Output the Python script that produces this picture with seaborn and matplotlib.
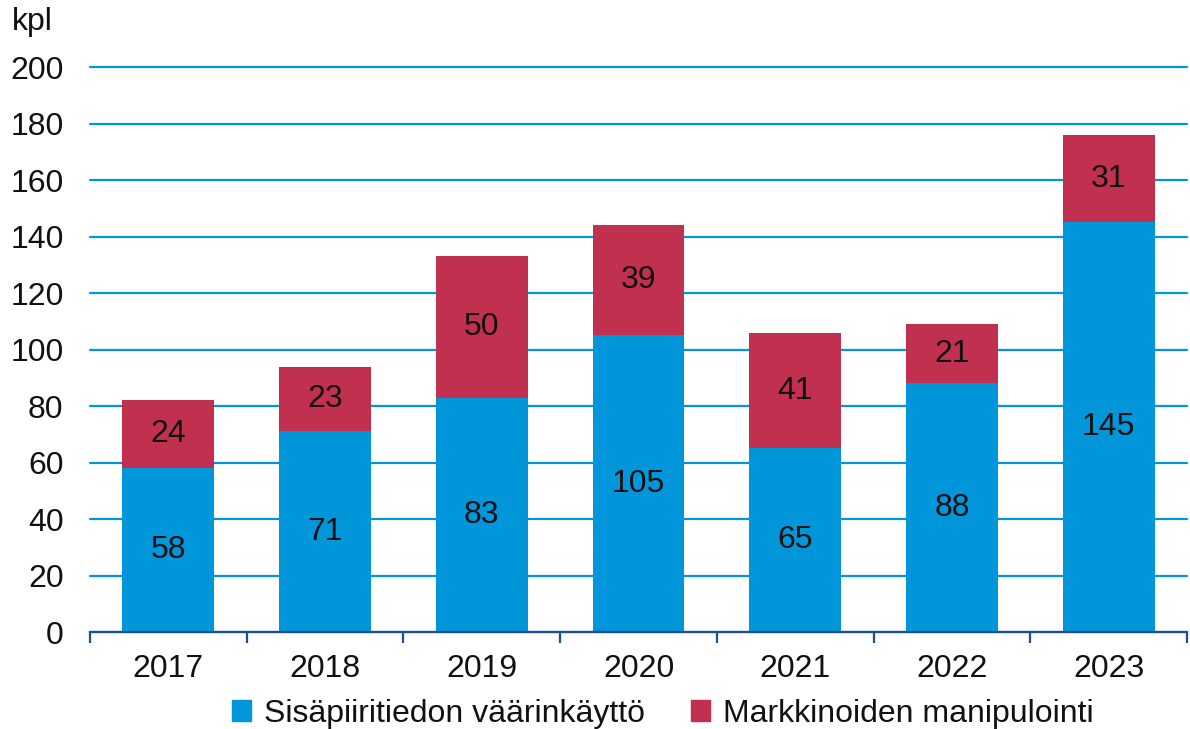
import pandas as pd
import seaborn as sns
import matplotlib.pyplot as plt
from matplotlib.ticker import MultipleLocator, FixedLocator
from matplotlib.patches import Patch

# Data
years = ["2017", "2018", "2019", "2020", "2021", "2022", "2023"]
insider = [58, 71, 83, 105, 65, 88, 145]
manipulation = [24, 23, 50, 39, 41, 21, 31]
series_names = ["Sisäpiiritiedon väärinkäyttö", "Markkinoiden manipulointi"]

blue = "#0096d9"
red = "#c1304f"
axis_blue = "#1f4e96"

df = pd.DataFrame({"year": years, "insider": insider, "manip": manipulation})

sns.set_style("white")
plt.rcParams["font.family"] = ["Liberation Sans", "DejaVu Sans"]

fig = plt.figure(figsize=(11.9, 7.29), dpi=100)
ax = fig.add_axes([0.0756, 0.133, 0.922, 0.775])

sns.barplot(data=df, x="year", y="insider", color=blue, width=0.585,
            saturation=1, ax=ax, zorder=3, linewidth=0)
sns.barplot(data=df, x="year", y="manip", color=red, width=0.585,
            saturation=1, ax=ax, bottom=df["insider"], zorder=3, linewidth=0)

for cont in ax.containers:
    ax.bar_label(cont, label_type="center", fontsize=23, color="#111111")

ax.set_ylim(0, 200)
ax.set_xlim(-0.5, len(years) - 0.5)
ax.yaxis.set_major_locator(MultipleLocator(20))
ax.grid(axis="y", color=blue, linewidth=1.6, zorder=0)
for gl in ax.get_ygridlines():
    gl.set_clip_on(False)
ax.set_axisbelow(True)
ax.set_xlabel("")
ax.set_ylabel("")

for side in ["top", "right", "left"]:
    ax.spines[side].set_visible(False)
ax.spines["bottom"].set_color(axis_blue)
ax.spines["bottom"].set_linewidth(1.6)
ax.spines["bottom"].set_zorder(4)

ax.tick_params(axis="y", length=0, pad=19, labelsize=23, labelcolor="#111111")
ax.tick_params(axis="x", which="major", length=0, pad=16, labelsize=23,
               labelcolor="#111111")
ax.xaxis.set_minor_locator(FixedLocator([i - 0.5 for i in range(len(years) + 1)]))
ax.tick_params(axis="x", which="minor", bottom=True, length=8, width=1.6,
               color=axis_blue, direction="out")

fig.text(0.01, 0.97, "kpl", fontsize=23, color="#111111", va="center")

handles = [Patch(color=blue, label=series_names[0]),
           Patch(color=red, label=series_names[1])]
fig.legend(handles=handles, loc="center", bbox_to_anchor=(0.557, 0.021),
           ncol=2, frameon=False, fontsize=23, handlelength=0.6,
           handleheight=0.6, handletextpad=0.4, columnspacing=1.45,
           borderaxespad=0, labelcolor="#111111")

plt.savefig("out.png", dpi=100)
